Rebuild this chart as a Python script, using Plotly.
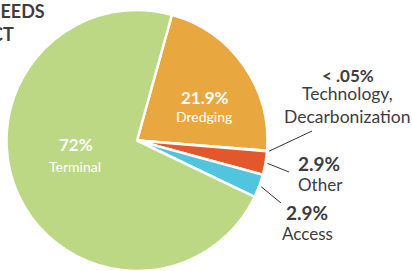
import math
import plotly.graph_objects as go

# ---- data ----
categories = ["Dredging", "Technology, Decarbonization", "Other", "Access", "Terminal"]
shares = [21.9, 0.05, 2.9, 2.9, 72.0]
pct_text = ["21.9%", "&lt; .05%", "2.9%", "2.9%", "72%"]
slice_colors = ["#e9a83f", "#b0b0b0", "#e2582a", "#52c5de", "#bdd884"]

# ---- layout geometry (pixels) ----
W, H = 412, 271
CX, CY, R = 137, 140.5, 130.5
ROT = 15.5
FONT = "Lato"
DARK = "#3d3d3d"

def px(x):
    return x / W

def py(y):
    return 1 - y / H

fig = go.Figure()
fig.add_trace(go.Pie(
    labels=categories,
    values=shares,
    sort=False,
    direction="clockwise",
    rotation=ROT,
    marker=dict(colors=slice_colors, line=dict(color="white", width=2.5)),
    textinfo="none",
    hoverinfo="label+percent",
    showlegend=False,
    domain=dict(x=[(CX - R) / W, (CX + R) / W], y=[(H - CY - R) / H, (H - CY + R) / H]),
))

annotations = []

def add_text(x, y, text, size, color=DARK, bold=False, xanchor="center"):
    t = f"<b>{text}</b>" if bold else text
    annotations.append(dict(
        x=px(x), y=py(y), xref="paper", yref="paper", text=t, showarrow=False,
        xanchor=xanchor, yanchor="middle",
        font=dict(family=FONT, size=size, color=color),
    ))

# title (cut off at left edge, as in reference)
add_text(46.5, 10.5, "INVESTMENT NEEDS", 18, bold=True, xanchor="right")
add_text(16, 34.5, "BY PROJECT", 18, bold=True, xanchor="right")

# inside labels
add_text(75.5, 144, pct_text[4], 17, color="white", bold=True)
add_text(75, 166, categories[4], 14, color="white")
add_text(204.5, 97, pct_text[0], 17, color="white", bold=True)
add_text(204, 116, categories[0], 14, color="white")

# outside labels
add_text(348, 75.5, pct_text[1], 17, bold=True)
add_text(347.5, 94, "Technology,", 17.5)
add_text(347, 116.5, "Decarbonization", 17.5)
add_text(319, 163, pct_text[2], 19, bold=True)
add_text(320, 184, categories[2], 17)
add_text(306.5, 212.5, pct_text[3], 19, bold=True)
add_text(307, 233.5, categories[3], 17)

# leader lines: start on the slice mid-angle (from data), end near the label
total = sum(shares)
angles = []
acc = ROT
for v in shares:
    span = v / total * 360
    angles.append(acc + span / 2)
    acc += span

ends = {1: (312, 131), 2: (289, 172), 3: (281, 203)}
shapes = []
for i, (ex, ey) in ends.items():
    a = math.radians(angles[i])
    sx = CX + (R + 2) * math.sin(a)
    sy = CY - (R + 2) * math.cos(a)
    shapes.append(dict(type="line", xref="paper", yref="paper",
                       x0=px(sx), y0=py(sy), x1=px(ex), y1=py(ey),
                       line=dict(color="#333333", width=1)))

fig.update_layout(
    width=W, height=H,
    margin=dict(l=0, r=0, t=0, b=0),
    paper_bgcolor="white", plot_bgcolor="white",
    annotations=annotations, shapes=shapes,
    font=dict(family=FONT),
)

fig.write_html(
    "out.html",
    config={"displayModeBar": False},
    post_script="document.body.style.margin='0';document.body.style.overflow='hidden';",
)
